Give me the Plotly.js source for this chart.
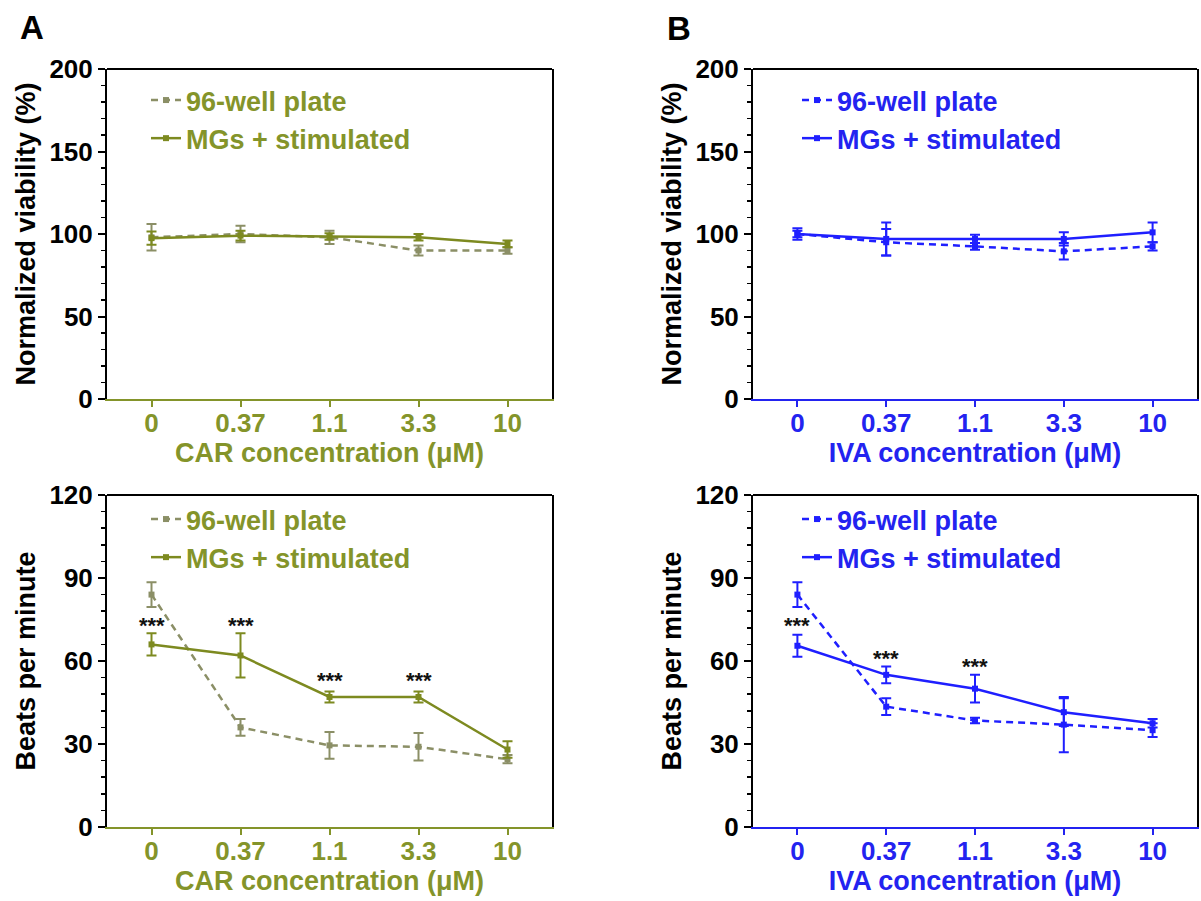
<!DOCTYPE html>
<html>
<head>
<meta charset="utf-8">
<script src="https://cdn.plot.ly/plotly-3.0.1.min.js"></script>
<style>html,body{margin:0;padding:0;background:#fff;}#chart{width:1201px;height:901px;}</style>
</head>
<body>
<div id="chart"></div>
<script>
// ---------- data ----------
const concentrations = ['0', '0.37', '1.1', '3.3', '10'];

// Panel A (CAR) - viability
const carViaPlate = [98, 100, 98, 90, 90];
const carViaPlateErr = [8, 5, 4, 3, 2];
const carViaMGs = [97.5, 99, 98.5, 98, 94];
const carViaMGsErr = [4, 3, 2, 2, 2];

// Panel A (CAR) - beats per minute
const carBpmPlate = [84, 36, 29.5, 29, 24.5];
const carBpmPlateErr = [4.5, 3, 4.8, 5, 1.5];
const carBpmMGs = [66, 62, 47, 47, 28];
const carBpmMGsErr = [4, 8, 2, 2, 3];
const carStarX = ['0', '0.37', '1.1', '3.3'];
const carStarY = [73, 73, 53, 53];

// Panel B (IVA) - viability
const ivaViaPlate = [100, 95, 92.5, 89.5, 92.5];
const ivaViaPlateErr = [2, 8, 2, 5, 2.5];
const ivaViaMGs = [100, 97, 97, 97, 101];
const ivaViaMGsErr = [3.5, 10, 2.5, 4, 6];

// Panel B (IVA) - beats per minute
const ivaBpmPlate = [84, 43.5, 38.5, 37, 35];
const ivaBpmPlateErr = [4.5, 3, 1, 10, 2.5];
const ivaBpmMGs = [65.5, 55, 50, 41.5, 37.5];
const ivaBpmMGsErr = [4, 3, 5, 5, 1.5];
const ivaStarX = ['0', '0.37', '1.1'];
const ivaStarY = [73, 61, 58];

const seriesNames = ['96-well plate', 'MGs + stimulated'];

// ---------- styles ----------
const OLIVE = '#7d8a20';
const OLIVE_TXT = '#84942a';
const OLIVE_DASH = '#8b8f66';
const BLUE = '#1f1fff';
const BLUE_TXT = '#2323f0';
const FONT = 'Liberation Sans, Arial, sans-serif';
const FS_TICK = 26;
const FS_TITLE = 27;
const FS_LEG = 27;

function series(x, y, err, name, color, dash, xa, ya, legend) {
  return {
    type: 'scatter', mode: 'lines+markers', x: x, y: y, name: name,
    xaxis: xa, yaxis: ya, legend: legend,
    line: {color: color, width: 2.5, dash: dash},
    marker: {color: color, size: 6, symbol: 'square'},
    error_y: {type: 'data', array: err, visible: true, color: color, thickness: 2, width: 5}
  };
}

const traces = [
  series(concentrations, carViaPlate, carViaPlateErr, seriesNames[0], OLIVE_DASH, '7px,5px', 'x', 'y', 'legend'),
  series(concentrations, carViaMGs, carViaMGsErr, seriesNames[1], OLIVE, 'solid', 'x', 'y', 'legend'),
  series(concentrations, ivaViaPlate, ivaViaPlateErr, seriesNames[0], BLUE, '7px,5px', 'x2', 'y2', 'legend2'),
  series(concentrations, ivaViaMGs, ivaViaMGsErr, seriesNames[1], BLUE, 'solid', 'x2', 'y2', 'legend2'),
  series(concentrations, carBpmPlate, carBpmPlateErr, seriesNames[0], OLIVE_DASH, '7px,5px', 'x3', 'y3', 'legend3'),
  series(concentrations, carBpmMGs, carBpmMGsErr, seriesNames[1], OLIVE, 'solid', 'x3', 'y3', 'legend3'),
  series(concentrations, ivaBpmPlate, ivaBpmPlateErr, seriesNames[0], BLUE, '7px,5px', 'x4', 'y4', 'legend4'),
  series(concentrations, ivaBpmMGs, ivaBpmMGsErr, seriesNames[1], BLUE, 'solid', 'x4', 'y4', 'legend4')
];

const W = 1201, H = 901;
const domA = [107 / W, 552 / W];
const domB = [753 / W, 1197 / W];
const domTop = [1 - 399 / H, 1 - 69 / H];
const domBot = [1 - 827 / H, 1 - 495 / H];

function xaxis(domain, anchor, color, title) {
  return {
    domain: domain, anchor: anchor, type: 'category', range: [-0.5, 4.5],
    showline: true, linecolor: color, linewidth: 2,
    ticks: 'outside', ticklen: 6, tickwidth: 2, tickcolor: color,
    ticklabelstandoff: -6,
    tickfont: {family: FONT, size: FS_TICK, color: color, weight: 'bold'},
    showgrid: false, zeroline: false,
    title: {text: title, font: {family: FONT, size: FS_TITLE, color: color, weight: 'bold'}, standoff: 0}
  };
}
function yaxis(domain, anchor, max, dtick, minor, title) {
  return {
    domain: domain, anchor: anchor, range: [0, max], dtick: dtick,
    showline: true, linecolor: '#000', linewidth: 2, mirror: true,
    ticks: 'outside', ticklen: 7, tickwidth: 2, tickcolor: '#000',
    minor: {dtick: minor, ticks: 'outside', ticklen: 4, tickwidth: 1.5, tickcolor: '#000'},
    tickfont: {family: FONT, size: FS_TICK, color: '#000', weight: 'bold'},
    showgrid: false, zeroline: false,
    title: {text: title, font: {family: FONT, size: FS_TITLE, color: '#000', weight: 'bold'}, standoff: 6}
  };
}
function legend(x, y, color) {
  return {
    x: x, y: y, xanchor: 'left', yanchor: 'top', bgcolor: 'rgba(0,0,0,0)',
    font: {family: FONT, size: FS_LEG, color: color, weight: 'bold'},
    tracegroupgap: 0, itemwidth: 30
  };
}

const annotations = [];
function stars(xs, ys, xref, yref) {
  xs.forEach((x, i) => annotations.push({
    x: concentrations.indexOf(x), y: ys[i], xref: xref, yref: yref, text: '***', showarrow: false,
    font: {family: FONT, size: 22, color: '#111', weight: 'bold'}
  }));
}
stars(carStarX, carStarY, 'x3', 'y3');
stars(ivaStarX, ivaStarY, 'x4', 'y4');
annotations.push({x: 32 / W, y: 1 - 27 / H, xref: 'paper', yref: 'paper', xanchor: 'center', yanchor: 'middle',
  text: 'A', showarrow: false, font: {family: FONT, size: 33, color: '#000', weight: 'bold'}});
annotations.push({x: 679 / W, y: 1 - 28 / H, xref: 'paper', yref: 'paper', xanchor: 'center', yanchor: 'middle',
  text: 'B', showarrow: false, font: {family: FONT, size: 33, color: '#000', weight: 'bold'}});

const shapes = ['x', 'x2', 'x3', 'x4'].map((xa, i) => ({
  type: 'line', xref: xa + ' domain', yref: ['y', 'y2', 'y3', 'y4'][i] + ' domain',
  x0: 0, x1: 1, y0: 1, y1: 1, line: {color: '#000', width: 2}
}));

const layout = {
  width: W, height: H, margin: {l: 0, r: 0, t: 0, b: 0},
  paper_bgcolor: '#fff', plot_bgcolor: '#fff',
  showlegend: true,
  xaxis: xaxis(domA, 'y', OLIVE_TXT, 'CAR concentration (μM)'),
  yaxis: yaxis(domTop, 'x', 200, 50, 10, 'Normalized viability (%)'),
  xaxis2: xaxis(domB, 'y2', BLUE_TXT, 'IVA concentration (μM)'),
  yaxis2: yaxis(domTop, 'x2', 200, 50, 10, 'Normalized viability (%)'),
  xaxis3: xaxis(domA, 'y3', OLIVE_TXT, 'CAR concentration (μM)'),
  yaxis3: yaxis(domBot, 'x3', 120, 30, 6, 'Beats per minute'),
  xaxis4: xaxis(domB, 'y4', BLUE_TXT, 'IVA concentration (μM)'),
  yaxis4: yaxis(domBot, 'x4', 120, 30, 6, 'Beats per minute'),
  legend: legend(146 / W, 1 - 76 / H, OLIVE_TXT),
  legend2: legend(797 / W, 1 - 76 / H, BLUE_TXT),
  legend3: legend(146 / W, 1 - 495 / H, OLIVE_TXT),
  legend4: legend(797 / W, 1 - 495 / H, BLUE_TXT),
  annotations: annotations,
  shapes: shapes
};

Plotly.newPlot('chart', traces, layout, {displayModeBar: false, staticPlot: true});
</script>
</body>
</html>
